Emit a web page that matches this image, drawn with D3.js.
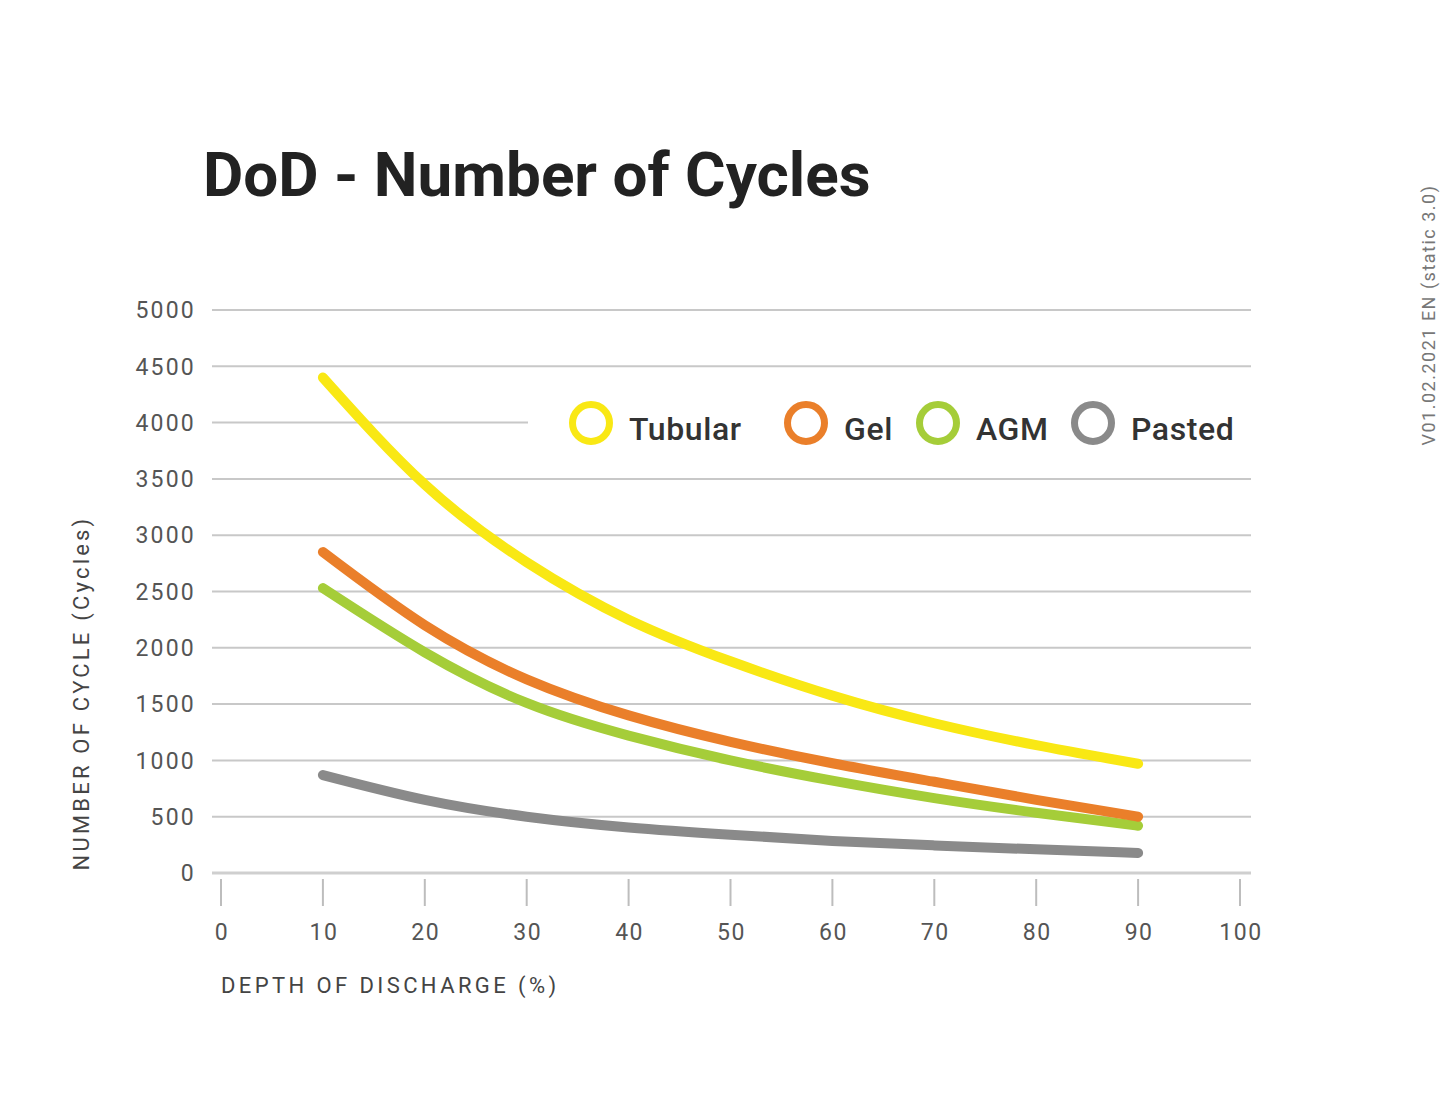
<!DOCTYPE html>
<html>
<head>
<meta charset="utf-8">
<script src="https://cdn.jsdelivr.net/npm/d3@7"></script>
<style>
  html, body { margin: 0; padding: 0; background: #fff; }
  svg { display: block; }
</style>
</head>
<body>
<svg id="chart" width="1440" height="1094"></svg>
<script>
const dod = [10, 20, 30, 40, 50, 60, 70, 80, 90];
const tubular = [4400, 3450, 2760, 2250, 1880, 1575, 1330, 1135, 970];
const gel = [2850, 2200, 1720, 1400, 1165, 975, 810, 650, 500];
const agm = [2530, 1960, 1510, 1220, 1000, 820, 665, 535, 420];
const pasted = [870, 650, 500, 405, 340, 285, 245, 210, 178];
const seriesNames = ["Tubular", "Gel", "AGM", "Pasted"];
const seriesColors = ["#f9e814", "#ea7f2a", "#a5cd39", "#8a8a8a"];
const xTicks = [0, 10, 20, 30, 40, 50, 60, 70, 80, 90, 100];
const yTicks = [0, 500, 1000, 1500, 2000, 2500, 3000, 3500, 4000, 4500, 5000];

const svg = d3.select("#chart");
const x = d3.scaleLinear().domain([0, 100]).range([221, 1240]);
const y = d3.scaleLinear().domain([0, 5000]).range([873, 310]);

// title
svg.append("text")
  .attr("x", 203).attr("y", 196)
  .attr("font-family", "Roboto, sans-serif")
  .attr("font-weight", 700)
  .attr("font-size", 62)
  .attr("fill", "#222")
  .attr("letter-spacing", 0)
  .text("DoD - Number of Cycles");

// gridlines
const grid = svg.append("g");
grid.selectAll("line").data(yTicks).join("line")
  .attr("x1", 212).attr("x2", 1251)
  .attr("y1", d => y(d)).attr("y2", d => y(d))
  .attr("stroke", d => d === 0 ? "#cfcfcf" : "#c8c8c8")
  .attr("stroke-width", d => d === 0 ? 3 : 2);

// y labels
svg.append("g").selectAll("text").data(yTicks).join("text")
  .attr("x", 196).attr("y", d => y(d))
  .attr("dy", "0.36em")
  .attr("text-anchor", "end")
  .attr("font-family", "Roboto, sans-serif")
  .attr("font-size", 23)
  .attr("fill", "#555")
  .attr("letter-spacing", 2.2)
  .text(d => d);

// x axis ticks
const xg = svg.append("g");
xg.selectAll("line").data(xTicks).join("line")
  .attr("x1", d => x(d)).attr("x2", d => x(d))
  .attr("y1", 879).attr("y2", 906)
  .attr("stroke", "#bdbdbd").attr("stroke-width", 2);
xg.selectAll("text").data(xTicks).join("text")
  .attr("x", d => x(d) + 1).attr("y", 932)
  .attr("dy", "0.36em")
  .attr("text-anchor", "middle")
  .attr("font-family", "Roboto, sans-serif")
  .attr("font-size", 23)
  .attr("fill", "#555")
  .attr("letter-spacing", 1.5)
  .text(d => d);

// axis titles
svg.append("text")
  .attr("x", 221).attr("y", 985)
  .attr("dy", "0.36em")
  .attr("font-family", "Roboto, sans-serif")
  .attr("font-size", 22)
  .attr("fill", "#444")
  .attr("letter-spacing", 3.4)
  .text("DEPTH OF DISCHARGE (%)");

svg.append("text")
  .attr("transform", "translate(81,693) rotate(-90)")
  .attr("dy", "0.36em")
  .attr("text-anchor", "middle")
  .attr("font-family", "Roboto, sans-serif")
  .attr("font-size", 22)
  .attr("fill", "#444")
  .attr("letter-spacing", 3.2)
  .text("NUMBER OF CYCLE (Cycles)");

// side note
svg.append("text")
  .attr("transform", "translate(1429,315) rotate(-90)")
  .attr("dy", "0.36em")
  .attr("text-anchor", "middle")
  .attr("font-family", "Roboto, sans-serif")
  .attr("font-size", 18)
  .attr("fill", "#777")
  .attr("letter-spacing", 1.5)
  .text("V01.02.2021 EN (static 3.0)");

// curves
const allSeries = [tubular, gel, agm, pasted];
const line = d3.line()
  .x((d, i) => x(dod[i]))
  .y(d => y(d))
  .curve(d3.curveNatural);
const drawOrder = [3, 0, 2, 1];
svg.append("g").selectAll("path").data(drawOrder).join("path")
  .attr("d", k => line(allSeries[k]))
  .attr("fill", "none")
  .attr("stroke", k => seriesColors[k])
  .attr("stroke-width", 10)
  .attr("stroke-linecap", "round")
  .attr("stroke-linejoin", "round");

// legend
const legend = svg.append("g");
legend.append("rect")
  .attr("x", 528).attr("y", 392).attr("width", 740).attr("height", 66)
  .attr("fill", "#fff");
const legendX = [591, 806, 938, 1093];
seriesNames.forEach((name, i) => {
  legend.append("circle")
    .attr("cx", legendX[i]).attr("cy", 423)
    .attr("r", 18.5)
    .attr("fill", "none")
    .attr("stroke", seriesColors[i])
    .attr("stroke-width", 7);
  legend.append("text")
    .attr("x", legendX[i] + 38).attr("y", 428)
    .attr("dy", "0.36em")
    .attr("font-family", "Roboto, sans-serif")
    .attr("font-weight", 500)
    .attr("font-size", 32)
    .attr("fill", "#333")
    .attr("letter-spacing", 0.6)
    .text(name);
});
</script>
</body>
</html>
